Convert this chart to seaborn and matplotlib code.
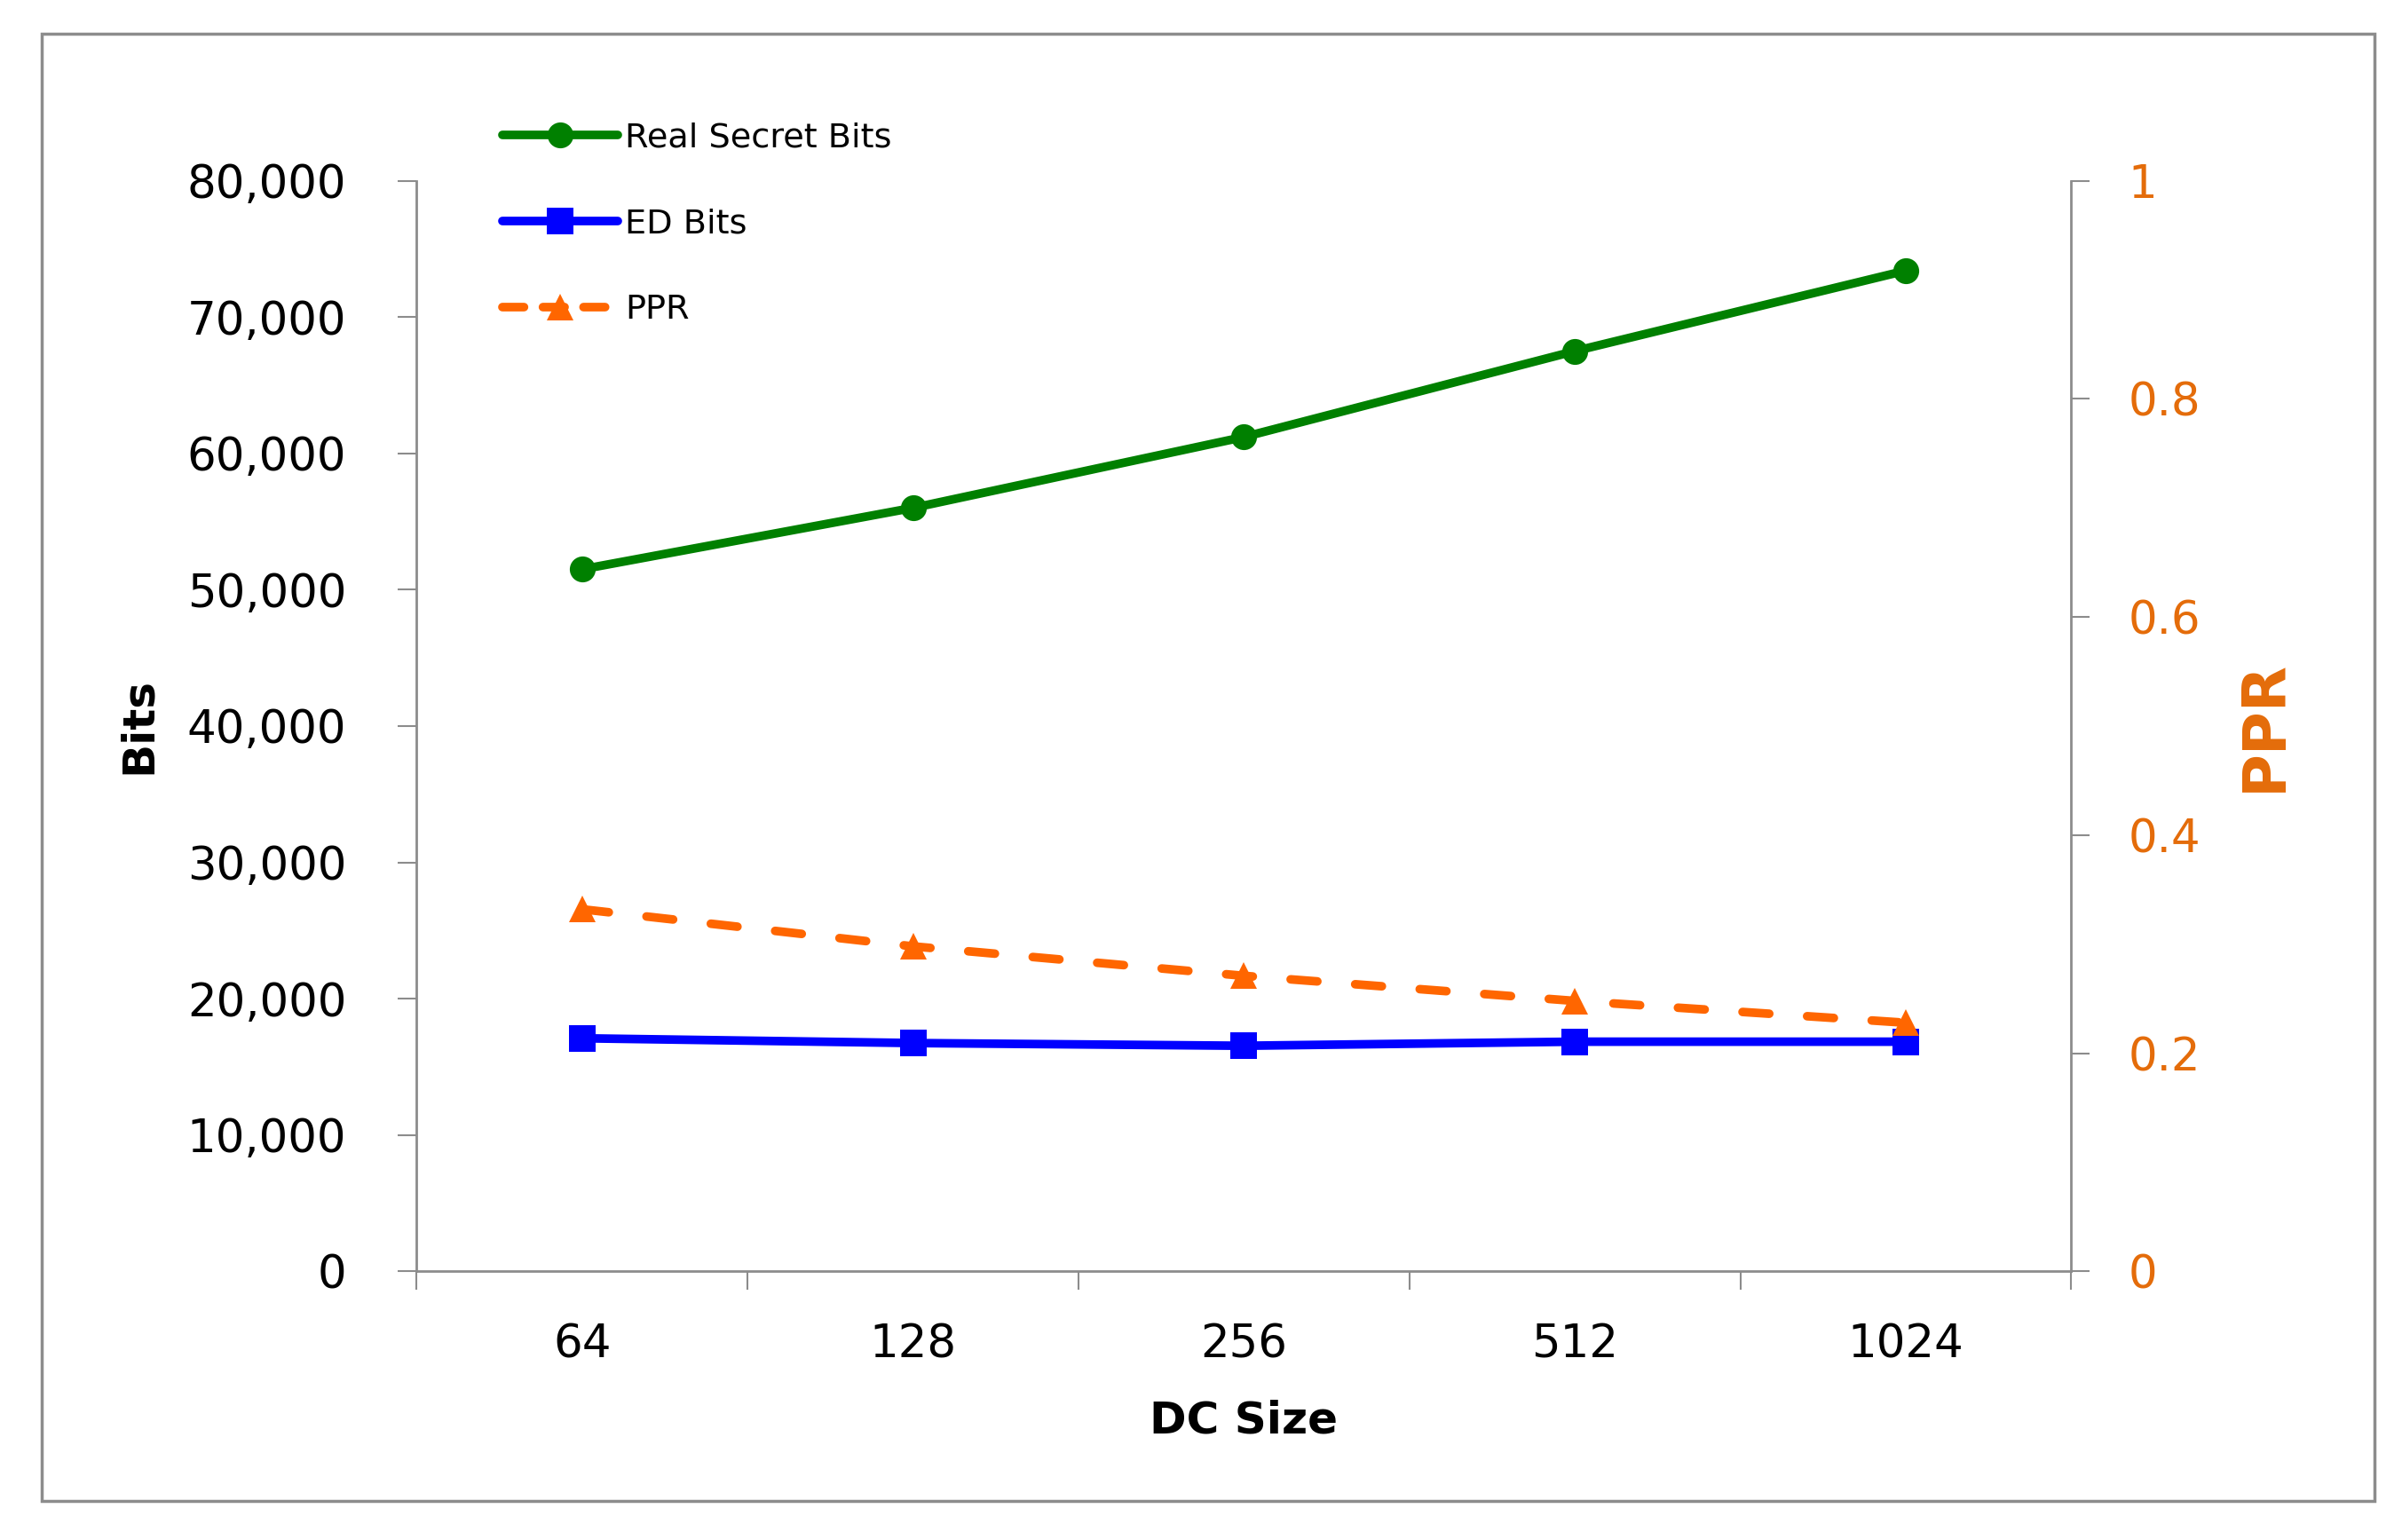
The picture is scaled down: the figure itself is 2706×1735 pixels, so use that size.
import numpy as np
import pandas as pd
import matplotlib
matplotlib.use("Agg")
import matplotlib.pyplot as plt
import seaborn as sns
from matplotlib.lines import Line2D
from matplotlib.patches import Rectangle
from matplotlib.ticker import FuncFormatter, FixedLocator

# data
dc_sizes = ['64', '128', '256', '512', '1024']
real_secret_bits = [51500, 56000, 61200, 67500, 73400]
ed_bits = [17100, 16750, 16550, 16850, 16850]
ppr = [0.332, 0.298, 0.271, 0.248, 0.228]

df = pd.DataFrame({'dc': dc_sizes, 'real': real_secret_bits,
                   'ed': ed_bits, 'ppr': ppr})

sns.set_style('white')
plt.rcParams['font.family'] = ['DejaVu Sans']
plt.rcParams['text.color'] = 'black'
plt.rcParams['axes.labelcolor'] = 'black'

green = '#008000'
blue = '#0000FF'
orange = '#FF6600'
orange_txt = '#E46C0A'
spine_gray = '#8C8C8C'
lw = 7

fig = plt.figure(figsize=(27.06, 17.35), dpi=100)
ax = fig.add_axes([0.1735, 0.1744, 0.8623 - 0.1735, 0.8827 - 0.1744])
ax2 = ax.twinx()

sns.lineplot(data=df, x='dc', y='real', ax=ax, color=green, lw=lw,
             marker='o', markersize=21, markeredgewidth=0, sort=False, legend=False,
             solid_capstyle='round')
sns.lineplot(data=df, x='dc', y='ed', ax=ax, color=blue, lw=lw,
             marker='s', markersize=21, markeredgewidth=0, sort=False, legend=False,
             solid_capstyle='round')
sns.lineplot(data=df, x='dc', y='ppr', ax=ax2, color=orange, lw=lw,
             marker='^', markersize=22, markeredgewidth=0, sort=False, legend=False,
             dashes=False, dash_capstyle='round')
ax2.lines[0].set_dashes((3.1, 4.4))

# axes limits and ticks
ax.set_xlim(-0.5, 4.5)
ax.set_ylim(0, 80000)
ax2.set_ylim(0, 1)
ax.set_yticks(np.arange(0, 80001, 10000))
ax.yaxis.set_major_formatter(FuncFormatter(lambda v, p: f'{int(v):,}'))
ax2.set_yticks([0, 0.2, 0.4, 0.6, 0.8, 1])
ax2.yaxis.set_major_formatter(FuncFormatter(lambda v, p: '0' if v == 0 else ('1' if v == 1 else f'{v:.1f}')))

ax.xaxis.set_major_locator(FixedLocator(np.arange(-0.5, 4.6, 1)))
ax.xaxis.set_minor_locator(FixedLocator(np.arange(0, 5)))
ax.set_xticklabels([], minor=False)
ax.set_xticklabels(dc_sizes, minor=True)
ax.tick_params(axis='x', which='major', length=15, width=1.5, color=spine_gray,
               direction='out', bottom=True)
ax.tick_params(axis='x', which='minor', length=0, pad=42, labelsize=37,
               labelcolor='black', bottom=True)
ax.tick_params(axis='y', length=15, width=1.5, color=spine_gray, direction='out',
               pad=42, labelsize=37, labelcolor='black', left=True)
ax2.tick_params(axis='y', length=15, width=1.5, color=spine_gray, direction='out',
                pad=31, labelsize=37, labelcolor=orange_txt, right=True)

for a in (ax, ax2):
    a.grid(False)
    a.spines['top'].set_visible(False)
    for s in ('left', 'right', 'bottom'):
        a.spines[s].set_color(spine_gray)
        a.spines[s].set_linewidth(2)
ax.spines['right'].set_visible(False)
ax2.spines['left'].set_visible(False)
ax2.spines['bottom'].set_visible(False)

ax.set_xlabel('DC Size', fontsize=36, fontweight='bold', color='black', labelpad=26)
ax.set_ylabel('Bits', fontsize=36, fontweight='bold', color='black', labelpad=22)
ax2.set_ylabel('PPR', fontsize=48, fontweight='bold', color=orange_txt, labelpad=28)

handles = [
    Line2D([], [], color=green, lw=lw, marker='o', markersize=21, markeredgewidth=0,
           solid_capstyle='round'),
    Line2D([], [], color=blue, lw=lw, marker='s', markersize=21, markeredgewidth=0,
           solid_capstyle='round'),
    Line2D([], [], color=orange, lw=lw, marker='^', markersize=22, markeredgewidth=0,
           dashes=(2.5, 2.2), dash_capstyle='round'),
]
leg = ax.legend(handles, ['Real Secret Bits', 'ED Bits', 'PPR'], loc='upper left',
                bbox_to_anchor=(0.052, 1.054), frameon=False, fontsize=27.5,
                handlelength=3.4, handletextpad=0.2, labelspacing=1.6,
                borderpad=0, borderaxespad=0)
for t in leg.get_texts():
    t.set_color('black')

# outer border of the chart area
fig.patches.append(Rectangle((47 / 2706, 1 - 1691 / 1735), (2675 - 47) / 2706,
                             (1691 - 38) / 1735, transform=fig.transFigure,
                             fill=False, edgecolor='#8C8C8C', lw=2.5))

fig.savefig('out.png', dpi=100)
